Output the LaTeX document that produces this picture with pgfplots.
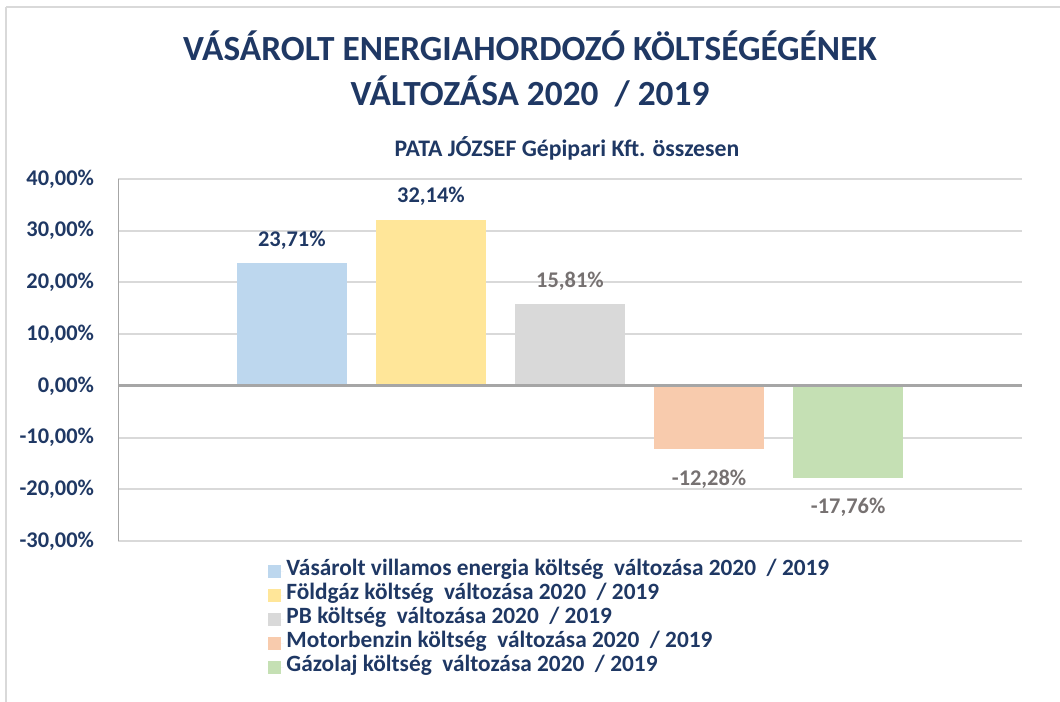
\documentclass[border=0pt]{standalone}
\usepackage{fontspec}
\setmainfont{Carlito}
\usepackage{pgfplots}
\pgfplotsset{compat=1.18}
\definecolor{navy}{HTML}{1F3864}
\definecolor{lblgray}{HTML}{767171}
\definecolor{axgray}{HTML}{A6A6A6}
\definecolor{gridc}{HTML}{D9D9D9}
\definecolor{cblue}{HTML}{BDD7EE}
\definecolor{cyellow}{HTML}{FFE699}
\definecolor{cgray}{HTML}{D9D9D9}
\definecolor{corange}{HTML}{F8CBAD}
\definecolor{cgreen}{HTML}{C5E0B4}

\begin{document}
\begin{tikzpicture}
% page: 1060 x 702 px, 1 px = 0.75pt
\path[use as bounding box] (0pt,0pt) rectangle (795pt,526.5pt);
\draw[gridc,line width=1.2pt] (4.5pt,521.25pt) -- (830pt,521.25pt);
\draw[gridc,line width=1.2pt] (4.5pt,521.25pt) -- (4.5pt,-40pt);
\node[font=\bfseries\fontsize{26.5}{30}\selectfont,color=navy] at (397.5pt,492pt) {VÁSÁROLT ENERGIAHORDOZÓ KÖLTSÉGÉGÉNEK};
\node[font=\bfseries\fontsize{26.5}{30}\selectfont,color=navy] at (397.5pt,458.25pt) {VÁLTOZÁSA 2020~~/ 2019};
\node[font=\bfseries\fontsize{17.8}{20}\selectfont,color=navy] at (425.25pt,415.5pt) {PATA JÓZSEF Gépipari Kft. összesen};
\begin{axis}[
  at={(88.5pt,120.75pt)},anchor=south west,scale only axis,
  width=678pt,height=271.5pt,
  xmin=-0.25,xmax=6.25,ymin=-30,ymax=40,
  ytick={-30,-20,...,40},xtick=\empty,
  axis line style={draw=none},
  major tick length=0pt,
  ymajorgrids,grid style={line width=1.4pt,color=gridc},
  yticklabel={\pgfmathprintnumber[fixed,fixed zerofill,precision=2,use comma,assume math mode=true]{\tick}\%},
  yticklabel style={font=\bfseries\fontsize{16.8}{19}\selectfont,color=navy,xshift=-14.5pt},
  ybar,bar width=0.79,bar shift=0pt,
  point meta=explicit symbolic,
  nodes near coords,
  every node near coord/.append style={font=\bfseries\fontsize{16.8}{19}\selectfont},
  legend image code/.code={\path[#1] (0pt,-4.9pt) rectangle (9.75pt,4.9pt); \path (0pt,0pt) -- (12pt,0pt);},
  legend style={draw=none,fill=none,at={(axis description cs:0.161,-0.041)},anchor=north west,
    font=\bfseries\fontsize{17.5}{20}\selectfont,text=navy,row sep=-0.75pt,
    nodes={inner ysep=0pt,text height=12.5pt,text depth=6.25pt}},
  legend cell align=left,
]
\addplot[fill=cblue,draw=none,every node near coord/.append style={color=navy,yshift=7pt}] coordinates {(1,23.71) [23,71\%]};
\addplot[fill=cyellow,draw=none,every node near coord/.append style={color=navy,yshift=7pt}] coordinates {(2,32.14) [32,14\%]};
\addplot[fill=cgray,draw=none,every node near coord/.append style={color=lblgray,yshift=7pt}] coordinates {(3,15.81) [15,81\%]};
\addplot[fill=corange,draw=none,every node near coord/.append style={color=lblgray,anchor=north,yshift=-12pt}] coordinates {(4,-12.28) [-12,28\%]};
\addplot[fill=cgreen,draw=none,every node near coord/.append style={color=lblgray,anchor=north,yshift=-12pt}] coordinates {(5,-17.76) [-17,76\%]};
\draw[axgray,line width=2.2pt] (axis cs:-0.25,0) -- (axis cs:6.25,0);
\draw[axgray,line width=2.2pt] (rel axis cs:0,0) -- (rel axis cs:0,1);
\legend{Vásárolt villamos energia költség~~változása 2020~~/ 2019,
  Földgáz költség~~változása 2020~~/ 2019,
  PB költség~~változása 2020~~/ 2019,
  Motorbenzin költség~~változása 2020~~/ 2019,
  Gázolaj költség~~változása 2020~~/ 2019}
\end{axis}
\end{tikzpicture}
\end{document}
